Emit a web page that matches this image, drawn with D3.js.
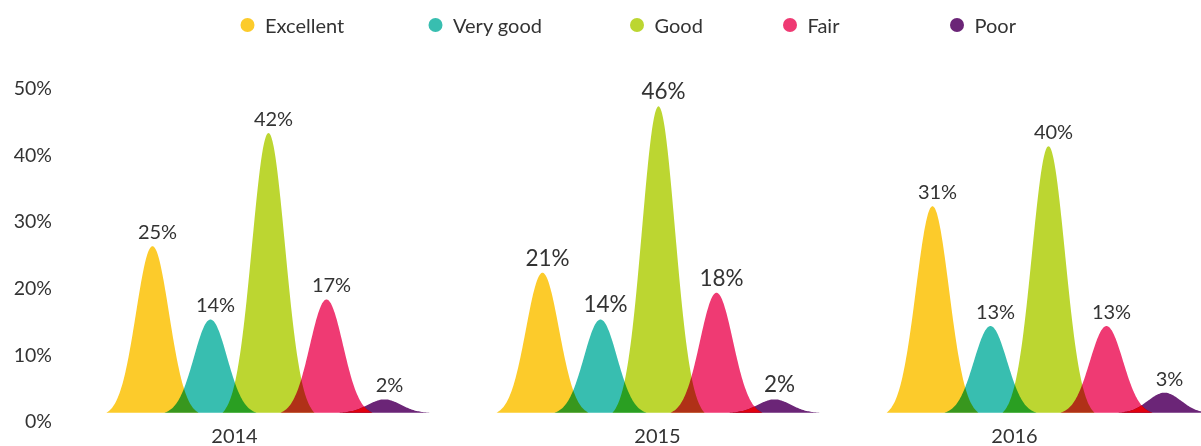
<!DOCTYPE html>
<html>
<head>
<meta charset="utf-8">
<script src="https://cdn.jsdelivr.net/npm/d3@7"></script>
<style>
  html, body { margin: 0; padding: 0; background: #fff; }
  svg { display: block; }
  text { font-family: Lato, "Open Sans", sans-serif; font-weight: 400; fill: #333; }
</style>
</head>
<body>
<svg id="chart" width="1201" height="446"></svg>
<script>
// ---- data ----
const years = ["2014", "2015", "2016"];
const categories = ["Excellent", "Very good", "Good", "Fair", "Poor"];
const excellent = [25, 21, 31];
const veryGood  = [14, 14, 13];
const good      = [42, 46, 40];
const fair      = [17, 18, 13];
const poor      = [2, 2, 3];
const yTicks    = [0, 10, 20, 30, 40, 50];

// ---- styles / layout ----
const colors = ["#FCCB2B", "#38BEB0", "#BCD631", "#EF3A73", "#6B2577"];
const overlapRed = "#E1000F";
const legendX = [247.5, 435.5, 637, 790, 957];
const yearLabelShift = [-34, -1, -34];
const labelFont = [20, 22.5, 20];

const series = [excellent, veryGood, good, fair, poor];

const W = 1201, H = 446;
const svg = d3.select("#chart");

const y = d3.scaleLinear().domain([0, 50]).range([412.7, 79.7]);
const xYear = d3.scalePoint().domain(years).range([268.5, 1048.5]);
const xCat = d3.scalePoint().domain(categories).range([-116, 116]);

// bell glyph
const halfW = 46, sigma = 16.5;
const g0 = Math.exp(-(halfW * halfW) / (2 * sigma * sigma));
const bell = dx => Math.max(0, (Math.exp(-(dx * dx) / (2 * sigma * sigma)) - g0) / (1 - g0));
const steps = d3.range(-halfW, halfW + 0.001, 1);

const area = d3.area()
  .x(d => d.x)
  .y0(y(0))
  .y1(d => y(d.v))
  .curve(d3.curveMonotoneX);

function shapeData(cx, v) {
  return steps.map(dx => ({ x: cx + dx, v: v * bell(dx) }));
}

// ---- y axis labels ----
svg.append("g").selectAll("text")
  .data(yTicks).join("text")
  .attr("x", 52)
  .attr("y", d => y(d) + 8)
  .attr("text-anchor", "end")
  .attr("dominant-baseline", "central")
  .style("font-size", "19.5px")
  .text(d => d + "%");

// ---- legend ----
const leg = svg.append("g").selectAll("g")
  .data(categories).join("g")
  .attr("transform", (d, i) => `translate(${legendX[i]},25)`);
leg.append("circle").attr("r", 7).attr("fill", (d, i) => colors[i]);
leg.append("text")
  .attr("x", 17.5)
  .attr("dominant-baseline", "central")
  .style("font-size", "20px")
  .text(d => d);

// ---- shapes ----
const defs = svg.append("defs");
const plot = svg.append("g").style("isolation", "isolate");

years.forEach((yr, yi) => {
  const gx = xYear(yr);
  const grp = plot.append("g");
  categories.forEach((cat, ci) => {
    const cx = gx + xCat(cat);
    grp.append("path")
      .attr("d", area(shapeData(cx, series[ci][yi])))
      .attr("fill", colors[ci])
      .style("mix-blend-mode", "multiply");
  });
  // fair ∩ poor overlap in bright red
  const fairCx = gx + xCat("Fair");
  const poorCx = gx + xCat("Poor");
  const clipId = "clipFair" + yr;
  defs.append("clipPath").attr("id", clipId)
    .append("path").attr("d", area(shapeData(fairCx, fair[yi])));
  grp.append("path")
    .attr("d", area(shapeData(poorCx, poor[yi])))
    .attr("clip-path", `url(#${clipId})`)
    .attr("fill", overlapRed);
});

// ---- value labels ----
years.forEach((yr, yi) => {
  const gx = xYear(yr);
  svg.append("g").selectAll("text")
    .data(categories).join("text")
    .attr("x", d => gx + xCat(d) + 5)
    .attr("y", (d, ci) => y(series[ci][yi]) - 7)
    .attr("text-anchor", "middle")
    .style("font-size", labelFont[yi] + "px")
    .text((d, ci) => series[ci][yi] + "%");
});

// ---- year labels ----
svg.append("g").selectAll("text")
  .data(years).join("text")
  .attr("x", (d, i) => xYear(d) + yearLabelShift[i])
  .attr("y", 443)
  .attr("text-anchor", "middle")
  .style("font-size", "20px")
  .text(d => d);
</script>
</body>
</html>
